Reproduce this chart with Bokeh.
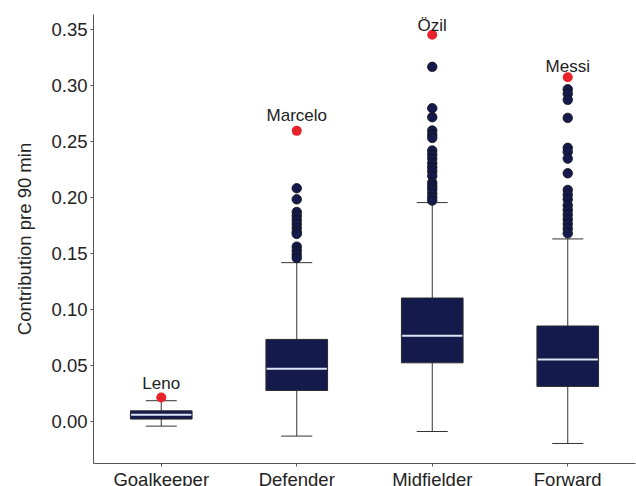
from bokeh.plotting import figure
from bokeh.models import (ColumnDataSource, FactorRange, Range1d, FixedTicker,
                          PrintfTickFormatter, Whisker, TeeHead)
from bokeh.core.properties import value
from bokeh.embed import file_html
from bokeh.resources import INLINE

# Box statistics per position
categories = ["Goalkeeper", "Defender", "Midfielder", "Forward"]
q1 = [0.0018, 0.0274, 0.0521, 0.0310]
median = [0.0056, 0.0468, 0.0763, 0.0551]
q3 = [0.0092, 0.0730, 0.1100, 0.0850]
whisker_low = [-0.0045, -0.0134, -0.0093, -0.0200]
whisker_high = [0.0182, 0.1416, 0.1953, 0.1628]

# Outlying players (excluding the top one of each position)
defender_outliers = [0.2081, 0.1982, 0.1869, 0.1834, 0.1798, 0.1762, 0.1726,
                     0.1690, 0.1673, 0.1559, 0.1523, 0.1488, 0.1458]
midfielder_outliers = [0.3166, 0.2796, 0.2716, 0.2597, 0.2561, 0.2531, 0.2418,
                       0.2382, 0.2346, 0.2304, 0.2268, 0.2233, 0.2191, 0.2132,
                       0.2102, 0.2072, 0.2036, 0.2000, 0.1971]
forward_outliers = [0.2966, 0.2925, 0.2871, 0.2710, 0.2442, 0.2406, 0.2346,
                    0.2215, 0.2066, 0.2024, 0.1982, 0.1929, 0.1887, 0.1845,
                    0.1803, 0.1762, 0.1720, 0.1678]

# Best player of each position
top_players = ["Leno", "Marcelo", "Özil", "Messi"]
top_values = [0.0211, 0.2594, 0.3453, 0.3073]
label_gap = [14, 15, 9, 11]  # px between point and label baseline

NAVY = "#151A4D"
RED = "#E8232B"
TEXT = "#222222"
FONT = "Liberation Sans"

p = figure(x_range=FactorRange(*categories, range_padding=0),
           y_range=Range1d(-0.0379, 0.3634),
           width=636, height=492, output_backend="svg", toolbar_location=None,
           min_border_left=93, min_border_top=14, min_border_right=1,
           min_border_bottom=0, styles={"overflow": "hidden"})

p.outline_line_color = None
p.xgrid.visible = False
p.ygrid.visible = False
p.background_fill_color = "white"

box_src = ColumnDataSource(dict(cat=categories, q1=q1, q3=q3, med=median,
                                lo=whisker_low, hi=whisker_high))

whisk = Whisker(source=box_src, base="cat", lower="lo", upper="hi",
                line_color="#333333", line_width=1, level="underlay",
                lower_head=TeeHead(size=31, line_color="#333333", line_width=1),
                upper_head=TeeHead(size=31, line_color="#333333", line_width=1))
p.add_layout(whisk)

p.vbar(x="cat", top="q3", bottom="q1", width=0.455, source=box_src,
       fill_color=NAVY, line_color="#2b2b2b", line_width=1)
p.rect(x="cat", y="med", width=0.445, height=2, height_units="screen",
       source=box_src, fill_color="#DDE5F2", line_color=None)

out_x = (["Defender"] * len(defender_outliers)
         + ["Midfielder"] * len(midfielder_outliers)
         + ["Forward"] * len(forward_outliers))
out_y = defender_outliers + midfielder_outliers + forward_outliers
p.scatter(x=out_x, y=out_y, size=9.5, fill_color=NAVY, line_color="#111111",
          line_width=0.8)

top_src = ColumnDataSource(dict(cat=categories, y=top_values, name=top_players,
                                dy=[-g for g in label_gap]))
p.scatter(x="cat", y="y", size=10, fill_color=RED, line_color=None,
          source=top_src)
p.text(x="cat", y="y", text="name", y_offset="dy", source=top_src,
       text_align="center", text_baseline="alphabetic",
       text_font=value(FONT), text_font_size="17px", text_color=TEXT)

# Axes
for ax in (p.xaxis[0], p.yaxis[0]):
    ax.axis_line_color = "#555555"
    ax.major_tick_line_color = "#555555"
    ax.major_tick_out = 3
    ax.major_tick_in = 0
    ax.minor_tick_line_color = None
    ax.major_label_text_font = FONT
    ax.major_label_text_font_size = "18.5px"
    ax.major_label_text_color = TEXT
    ax.major_label_standoff = 3

p.xaxis.major_label_standoff = 2
p.yaxis.ticker = FixedTicker(ticks=[0.0, 0.05, 0.10, 0.15, 0.20, 0.25, 0.30, 0.35])
p.yaxis.formatter = PrintfTickFormatter(format="%.2f")
p.yaxis.axis_label = "Contribution pre 90 min"
p.yaxis.axis_label_text_font = FONT
p.yaxis.axis_label_text_font_size = "18.5px"
p.yaxis.axis_label_text_font_style = "normal"
p.yaxis.axis_label_text_color = TEXT
p.yaxis.axis_label_standoff = 13

open("out.html", "w").write(file_html(p, INLINE))
